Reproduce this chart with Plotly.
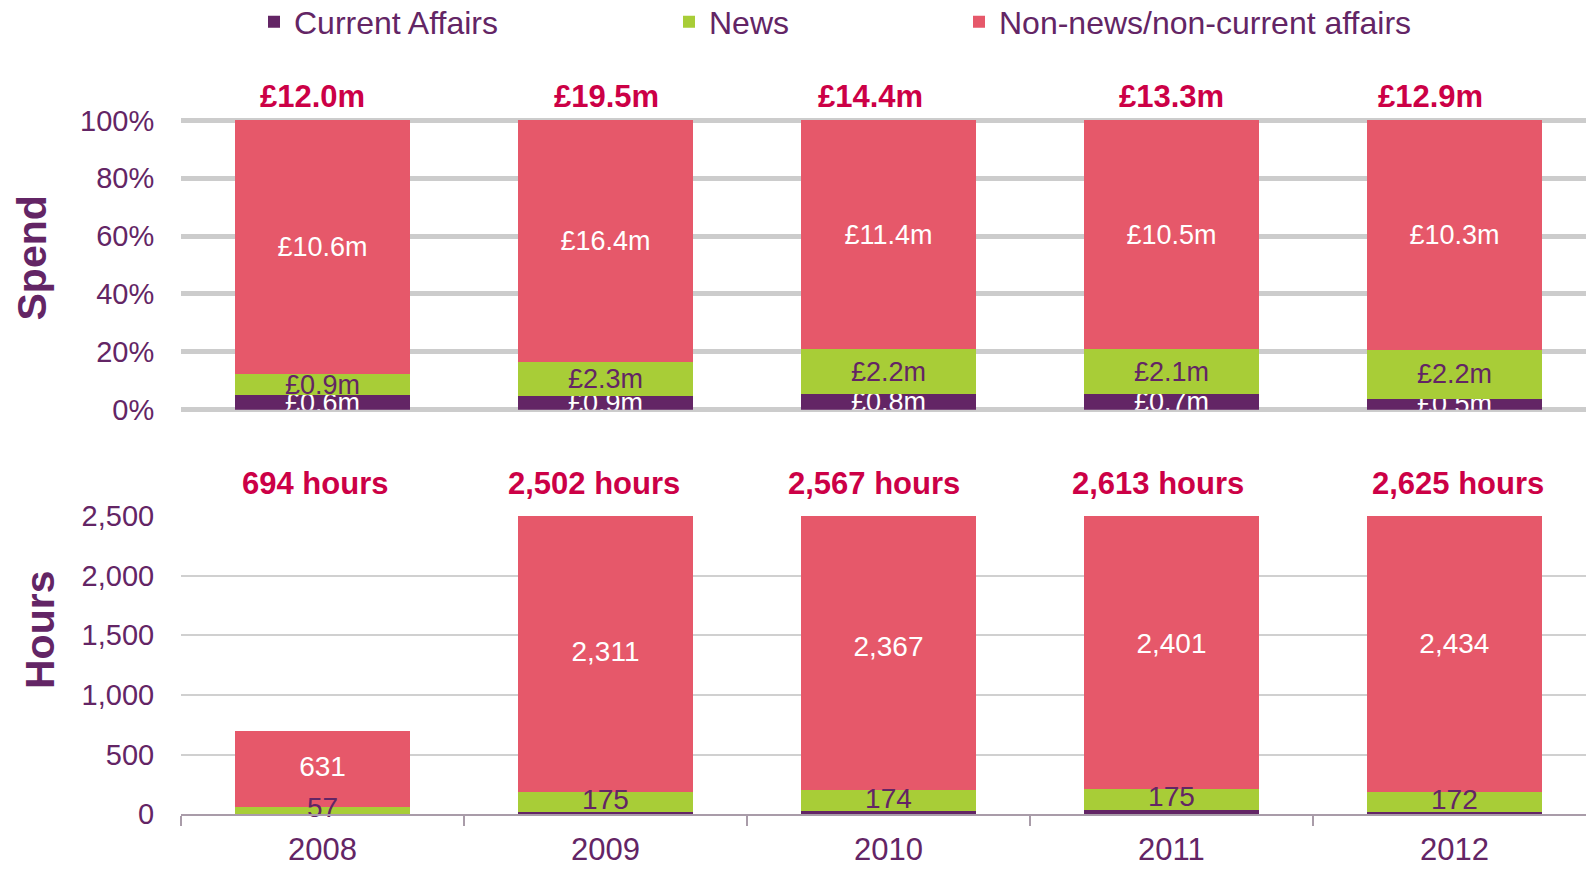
import plotly.graph_objects as go

# ---------------- data ----------------
years = ["2008", "2009", "2010", "2011", "2012"]
series_names = ["Current Affairs", "News", "Non-news/non-current affairs"]

spend_current_affairs = [0.6, 0.9, 0.8, 0.7, 0.5]
spend_news = [0.9, 2.3, 2.2, 2.1, 2.2]
spend_other = [10.6, 16.4, 11.4, 10.5, 10.3]
spend_totals = [12.0, 19.5, 14.4, 13.3, 12.9]

hours_current_affairs = [6, 16, 26, 37, 19]
hours_news = [57, 175, 174, 175, 172]
hours_other = [631, 2311, 2367, 2401, 2434]
hours_totals = [694, 2502, 2567, 2613, 2625]

pct_ticks = [0, 0.2, 0.4, 0.6, 0.8, 1.0]
pct_tick_labels = ["0%", "20%", "40%", "60%", "80%", "100%"]
hours_ticks = [0, 500, 1000, 1500, 2000, 2500]
hours_tick_labels = ["0", "500", "1,000", "1,500", "2,000", "2,500"]

# ---------------- style ----------------
PURPLE = "#632565"
GREEN = "#a8cd37"
RED = "#e6586a"
CRIMSON = "#cc0046"
TXT = "#632565"
FONT = "Arial, Liberation Sans, sans-serif"
W, H = 1586, 869
BARW = 0.62

spend_sum = [a + b + c for a, b, c in zip(spend_current_affairs, spend_news, spend_other)]
def share(vals):
    return [v / s for v, s in zip(vals, spend_sum)]

def money(vals):
    return ["£%.1fm" % v for v in vals]

fig = go.Figure()
colors = [PURPLE, GREEN, RED]
legends = ["legend", "legend2", "legend3"]

spend_series = [spend_current_affairs, spend_news, spend_other]
spend_text_colors = ["white", TXT, "white"]
for i, vals in enumerate(spend_series):
    fig.add_trace(go.Bar(
        x=years, y=share(vals), name=series_names[i],
        marker=dict(color=colors[i], line=dict(width=0)),
        width=BARW, text=money(vals), textposition="inside",
        insidetextanchor="middle", textangle=0, constraintext="none",
        textfont=dict(color=spend_text_colors[i], size=27, family=FONT),
        xaxis="x", yaxis="y", legend=legends[i], showlegend=True,
        hoverinfo="skip"))

# hours bars (labels drawn as text traces, centred on each full segment)
hours_series = [hours_current_affairs, hours_news, hours_other]
for i, vals in enumerate(hours_series):
    fig.add_trace(go.Bar(
        x=years, y=vals, name=series_names[i],
        marker=dict(color=colors[i], line=dict(width=0)), width=BARW,
        xaxis="x2", yaxis="y2", showlegend=False, hoverinfo="skip"))

news_mid = [a + b / 2 for a, b in zip(hours_current_affairs, hours_news)]
other_mid = [a + b + c / 2 for a, b, c in zip(hours_current_affairs, hours_news, hours_other)]
fig.add_trace(go.Scatter(
    x=years, y=news_mid, mode="text",
    text=["{:,}".format(v) for v in hours_news],
    textfont=dict(color=TXT, size=28, family=FONT), cliponaxis=False,
    xaxis="x2", yaxis="y2", showlegend=False, hoverinfo="skip"))
fig.add_trace(go.Scatter(
    x=years, y=other_mid, mode="text",
    text=["{:,}".format(v) for v in hours_other],
    textfont=dict(color="white", size=28, family=FONT),
    xaxis="x2", yaxis="y2", showlegend=False, hoverinfo="skip"))

# total labels
spend_shift = [-10, 1, -18, 0, -24]
hours_shift = [-7, -11, -14, -13, 4]
annotations = []
for i in range(len(years)):
    annotations.append(dict(
        x=i, xref="x", y=1, yref="y domain", yshift=22, yanchor="middle",
        xshift=spend_shift[i], text="£%.1fm" % spend_totals[i], showarrow=False,
        font=dict(size=31, color=CRIMSON, family=FONT, weight="bold")))
    annotations.append(dict(
        x=i, xref="x2", y=1, yref="y2 domain", yshift=32, yanchor="middle",
        xshift=hours_shift[i], text="{:,} hours".format(hours_totals[i]), showarrow=False,
        font=dict(size=31, color=CRIMSON, family=FONT, weight="bold")))

annotations.append(dict(
    x=31.5 / W, y=1 - 258 / H, xref="paper", yref="paper", text="Spend",
    textangle=-90, showarrow=False, xanchor="center", yanchor="middle",
    font=dict(size=41, color=TXT, family=FONT, weight="bold")))
annotations.append(dict(
    x=40 / W, y=1 - 630 / H, xref="paper", yref="paper", text="Hours",
    textangle=-90, showarrow=False, xanchor="center", yanchor="middle",
    font=dict(size=41, color=TXT, family=FONT, weight="bold")))

xdom = [181 / W, 1.0]
xrange = [-0.5, 4.465]

def leg(xpx):
    return dict(x=xpx / W, xanchor="left", y=1 - 22 / H, yanchor="middle",
                orientation="h", bgcolor="rgba(0,0,0,0)", borderwidth=0,
                font=dict(size=32, color=TXT, family=FONT),
                itemclick=False, itemdoubleclick=False)

# top axis: 1.0 at 120.4 px, 0 at 409.7 px; range padded so the 100% gridline is drawn
pad = 0.006
px_per_unit = 409.7 - 120.4
top_dom = [1 - 409.7 / H, 1 - (120.4 - pad * px_per_unit) / H]

fig.update_layout(
    width=W, height=H, barmode="stack",
    margin=dict(l=0, r=0, t=0, b=0, autoexpand=False),
    paper_bgcolor="white", plot_bgcolor="white",
    font=dict(family=FONT, color=TXT),
    annotations=annotations,
    legend=leg(254), legend2=leg(669), legend3=leg(959),
    xaxis=dict(domain=xdom, anchor="y", type="category", range=xrange,
               showticklabels=False, showgrid=False, showline=False,
               zeroline=False, ticks=""),
    yaxis=dict(domain=top_dom, anchor="x",
               range=[0, 1 + pad], tickvals=pct_ticks, ticktext=pct_tick_labels,
               showgrid=True, gridcolor="#cccccc", gridwidth=4.5,
               zeroline=True, zerolinecolor="#cccccc", zerolinewidth=4.5,
               showline=False, ticks="outside", ticklen=20,
               tickcolor="rgba(0,0,0,0)",
               tickfont=dict(size=29, color=TXT, family=FONT)),
    xaxis2=dict(domain=xdom, anchor="y2", type="category", range=xrange,
                showgrid=False, showline=True, linecolor="#a99ca9", linewidth=2,
                ticks="outside", tickson="boundaries", ticklen=10,
                tickcolor="#a99ca9", tickwidth=2, zeroline=False,
                ticklabelstandoff=6,
                tickfont=dict(size=31, color=TXT, family=FONT)),
    yaxis2=dict(domain=[1 - 814.3 / H, 1 - 515.9 / H], anchor="x2",
                range=[0, 2500], tickvals=hours_ticks, ticktext=hours_tick_labels,
                showgrid=True, gridcolor="#d0d0d0", gridwidth=2,
                zeroline=False, showline=False, ticks="outside", ticklen=20,
                tickcolor="rgba(0,0,0,0)",
                tickfont=dict(size=29, color=TXT, family=FONT)),
)

fig.write_html("out.html", config={"displayModeBar": False},
               post_script="document.body.style.margin='0';document.body.style.overflow='hidden';")
